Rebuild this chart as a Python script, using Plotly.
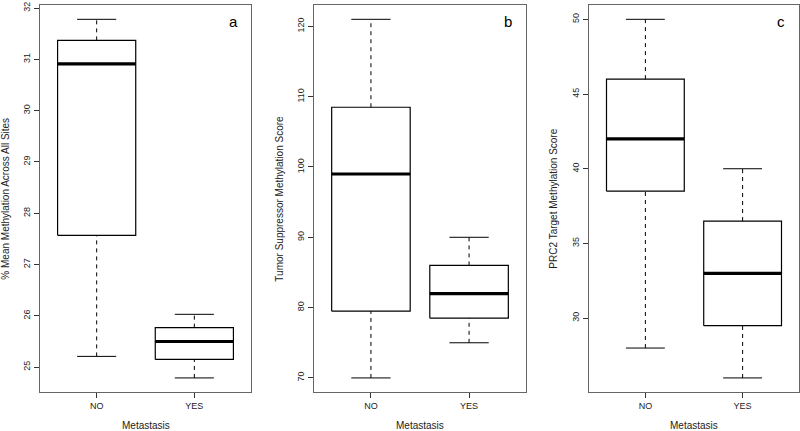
import plotly.graph_objects as go

# ---- data ----
categories = ["NO", "YES"]

# panel a: % Mean Methylation Across All Sites
a_low = [25.21, 24.79]
a_q1 = [27.57, 25.15]
a_med = [30.91, 25.50]
a_q3 = [31.37, 25.77]
a_high = [31.78, 26.03]

# panel b: Tumor Suppressor Methylation Score
b_low = [70.0, 75.0]
b_q1 = [79.5, 78.5]
b_med = [99.0, 82.0]
b_q3 = [108.5, 86.0]
b_high = [121.0, 90.0]

# panel c: PRC2 Target Methylation Score
c_low = [28.0, 26.0]
c_q1 = [38.5, 29.5]
c_med = [42.0, 33.0]
c_q3 = [46.0, 36.5]
c_high = [50.0, 40.0]

a_ticks = [25, 26, 27, 28, 29, 30, 31, 32]
b_ticks = [70, 80, 90, 100, 110, 120]
c_ticks = [30, 35, 40, 45, 50]

panels = [
    dict(low=a_low, q1=a_q1, med=a_med, q3=a_q3, high=a_high, ticks=a_ticks,
         title="% Mean Methylation Across All Sites", letter="a"),
    dict(low=b_low, q1=b_q1, med=b_med, q3=b_q3, high=b_high, ticks=b_ticks,
         title="Tumor Suppressor Methylation Score", letter="b"),
    dict(low=c_low, q1=c_q1, med=c_med, q3=c_q3, high=c_high, ticks=c_ticks,
         title="PRC2 Target Methylation Score", letter="c"),
]

W, H = 800, 431
FONT = "Liberation Sans, Arial, Helvetica, sans-serif"
# plot-area pixel extents for each panel (left, right)
xpix = [(40, 251), (314, 526), (589, 799)]
top_px, bot_px = 2, 392
ytitle_px = [6, 280, 554]

fig = go.Figure()
layout_axes = {}
annotations = []
half_box = 0.4   # boxwex 0.8
half_cap = 0.2   # staple width

for i, p in enumerate(panels):
    n = i + 1
    xa = "x" if n == 1 else f"x{n}"
    ya = "y" if n == 1 else f"y{n}"
    lo_all = min(p["low"])
    hi_all = max(p["high"])
    pad = 0.04 * (hi_all - lo_all)
    yr = [lo_all - pad, hi_all + pad]

    for j, cat in enumerate(categories):
        xc = j + 1
        # box rectangle
        fig.add_trace(go.Scatter(
            x=[xc - half_box, xc + half_box, xc + half_box, xc - half_box, xc - half_box],
            y=[p["q1"][j], p["q1"][j], p["q3"][j], p["q3"][j], p["q1"][j]],
            mode="lines", line=dict(color="black", width=1.2),
            xaxis=xa, yaxis=ya, showlegend=False, hoverinfo="skip"))
        # dashed whiskers
        for a, b in [(p["q3"][j], p["high"][j]), (p["low"][j], p["q1"][j])]:
            fig.add_trace(go.Scatter(
                x=[xc, xc], y=[a, b], mode="lines",
                line=dict(color="black", width=1, dash="4px,4px"),
                xaxis=xa, yaxis=ya, showlegend=False, hoverinfo="skip"))
        # caps
        for v in [p["high"][j], p["low"][j]]:
            fig.add_trace(go.Scatter(
                x=[xc - half_cap, xc + half_cap], y=[v, v], mode="lines",
                line=dict(color="black", width=1),
                xaxis=xa, yaxis=ya, showlegend=False, hoverinfo="skip"))
        # median
        fig.add_trace(go.Scatter(
            x=[xc - half_box, xc + half_box], y=[p["med"][j], p["med"][j]],
            mode="lines", line=dict(color="black", width=3.2),
            xaxis=xa, yaxis=ya, showlegend=False, hoverinfo="skip"))

    x0, x1 = xpix[i]
    xkey = "xaxis" if n == 1 else f"xaxis{n}"
    ykey = "yaxis" if n == 1 else f"yaxis{n}"
    layout_axes[xkey] = dict(
        domain=[x0 / W, x1 / W], range=[0.42, 2.58], anchor=ya,
        tickmode="array", tickvals=[1, 2], ticktext=categories,
        ticks="outside", ticklen=5, tickcolor="#333", showgrid=False, zeroline=False,
        showline=True, mirror=True, linecolor="#666", linewidth=1,
        tickfont=dict(size=9, color="#222", family=FONT))
    layout_axes[ykey] = dict(
        domain=[1 - bot_px / H, 1 - top_px / H], range=yr, anchor=xa,
        tickmode="array", tickvals=p["ticks"], tickangle=-90,
        ticks="outside", ticklen=5, tickcolor="#333", showgrid=False, zeroline=False,
        showline=True, mirror=True, linecolor="#666", linewidth=1,
        ticklabeloverflow="allow",
        tickfont=dict(size=9, color="#222", family=FONT))

    annotations.append(dict(
        text=p["letter"], xref=f"{xa} domain", yref=f"{ya} domain",
        x=(x1 - 18 - x0) / (x1 - x0), y=1 - 17 / (bot_px - top_px),
        showarrow=False, xanchor="center", yanchor="middle",
        font=dict(size=15, color="black", family=FONT)))
    annotations.append(dict(
        text="Metastasis", xref="paper", yref="paper",
        x=(x0 + x1) / 2 / W, y=1 - 425 / H, showarrow=False,
        xanchor="center", yanchor="middle",
        font=dict(size=10, color="#222", family=FONT)))
    annotations.append(dict(
        text=p["title"], xref="paper", yref="paper", textangle=-90,
        x=ytitle_px[i] / W, y=1 - (top_px + bot_px) / 2 / H, showarrow=False,
        xanchor="center", yanchor="middle",
        font=dict(size=10, color="#222", family=FONT)))

fig.update_layout(
    width=W, height=H, margin=dict(l=0, r=0, t=0, b=0),
    paper_bgcolor="white", plot_bgcolor="white",
    annotations=annotations, **layout_axes)

fig.write_html("out.html",
               config={"displayModeBar": False},
               post_script="document.body.style.margin='0';document.body.style.overflow='hidden';")
